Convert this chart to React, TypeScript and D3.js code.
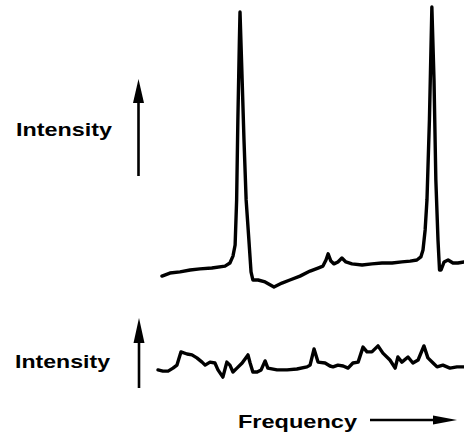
import React from "react";
import * as d3 from "d3";

// top spectrum: frequency (0-100) vs intensity (0-100)
const topFreq = [1.3, 3.9, 7.2, 10.5, 13.7, 17.6, 21.9, 23.5, 24.5, 25.2, 25.7, 26.1, 26.6, 26.8, 27.5, 28.1, 28.8, 29.7, 30.4, 31.0, 32.7, 35.0, 37.9, 40.5, 43.1, 46.4, 49.7, 52.3, 53.9, 54.9, 55.6, 56.5, 57.5, 58.8, 60.1, 61.4, 63.4, 66.7, 69.9, 73.2, 76.5, 79.7, 82.4, 84.6, 85.9, 86.6, 87.3, 87.9, 88.7, 89.5, 90.2, 90.8, 91.5, 92.0, 92.5, 93.5, 94.8, 96.4, 98.0, 100];
const topIntensity = [3.2, 4.3, 4.7, 5.4, 5.8, 6.1, 6.8, 7.9, 10.4, 14.4, 30.6, 59.4, 88.1, 98.2, 73.7, 52.2, 30.6, 16.2, 4.7, 1.8, 1.8, 1.1, -0.7, 0.7, 1.8, 3.2, 5.0, 6.1, 6.8, 9.0, 11.2, 8.6, 7.6, 8.3, 9.7, 8.3, 7.6, 7.2, 7.6, 7.9, 7.9, 8.3, 8.6, 9.0, 10.1, 12.6, 19.8, 30.6, 59.4, 100, 73.7, 37.8, 16.2, 5.4, 5.4, 8.3, 9.0, 7.9, 7.9, 8.3];

// bottom spectrum: frequency (0-100) vs intensity (0-10)
const bottomFreq = [0, 1.6, 3.3, 4.9, 6.2, 7.5, 9.5, 11.1, 12.7, 14.4, 15.4, 17.0, 18.6, 19.6, 21.2, 22.5, 23.5, 24.5, 25.8, 27.5, 29.4, 30.1, 31.0, 32.4, 33.7, 35.0, 35.9, 38.9, 42.2, 45.4, 48.7, 49.7, 51.0, 52.3, 54.6, 56.2, 57.2, 58.8, 60.5, 62.1, 63.7, 65.4, 67.0, 68.3, 69.9, 71.9, 73.5, 75.8, 77.5, 78.4, 79.7, 81.7, 83.3, 85.0, 86.9, 88.2, 89.9, 91.2, 93.1, 95.4, 97.7, 100];
const bottomIntensity = [1.7, 1.3, 1.3, 2.3, 3.3, 7.7, 7.0, 6.7, 5.7, 4.3, 3.3, 4.3, 4.0, 1.7, -0.7, 4.3, 3.3, 1.0, 2.3, 4.0, 6.7, 4.0, 1.0, 1.0, 1.7, 4.7, 2.3, 1.7, 1.7, 2.0, 2.7, 3.3, 8.7, 4.3, 4.0, 3.0, 2.7, 3.3, 3.0, 2.3, 4.0, 4.3, 9.3, 7.7, 7.7, 9.7, 7.3, 5.0, 2.3, 6.0, 4.3, 6.0, 4.0, 5.0, 9.7, 5.7, 4.0, 2.7, 3.3, 2.3, 2.7, 2.7];

const yLabel = "Intensity";
const xLabel = "Frequency";

const W = 464;
const H = 433;

function arrowHead(x: number, y: number, dir: "up" | "right", len: number, half: number) {
  if (dir === "up") return `M${x},${y} L${x - half},${y + len} L${x + half},${y + len} Z`;
  return `M${x},${y} L${x - len},${y - half} L${x - len},${y + half} Z`;
}

export default function App() {
  const x = d3.scaleLinear().domain([0, 100]).range([158, 464]);
  const yTop = d3.scaleLinear().domain([0, 100]).range([285, 7]);
  const yBot = d3.scaleLinear().domain([0, 10]).range([375, 345]);

  const topLine = d3
    .line<number>()
    .x((d) => x(d))
    .y((_, i) => yTop(topIntensity[i]))(topFreq);
  const botLine = d3
    .line<number>()
    .x((d) => x(d))
    .y((_, i) => yBot(bottomIntensity[i]))(bottomFreq);

  const font = { fontFamily: "'Liberation Sans', Arial, sans-serif", fontWeight: "bold" as const, fontSize: 19, fill: "#000" };

  return (
    <svg width={W} height={H} style={{ position: "absolute", left: 0, top: 0, background: "#fff" }}>
      <path d={topLine || ""} fill="none" stroke="#000" strokeWidth={3.4} strokeLinejoin="round" strokeLinecap="round" />
      <path d={botLine || ""} fill="none" stroke="#000" strokeWidth={3.4} strokeLinejoin="round" strokeLinecap="round" />

      {/* top y label and arrow */}
      <text x={16} y={136} textLength={96} lengthAdjust="spacingAndGlyphs" {...font}>{yLabel}</text>
      <line x1={138.5} y1={176} x2={138.5} y2={95} stroke="#000" strokeWidth={2.6} />
      <path d={arrowHead(138.5, 79, "up", 24, 5.5)} fill="#000" />

      {/* bottom y label and arrow */}
      <text x={15} y={368} textLength={95} lengthAdjust="spacingAndGlyphs" {...font}>{yLabel}</text>
      <line x1={139} y1={388} x2={139} y2={335} stroke="#000" strokeWidth={2.6} />
      <path d={arrowHead(139, 318, "up", 25, 5.5)} fill="#000" />

      {/* x label and arrow */}
      <text x={238} y={428} textLength={119} lengthAdjust="spacingAndGlyphs" {...font}>{xLabel}</text>
      <line x1={370} y1={420} x2={440} y2={420} stroke="#000" strokeWidth={2.4} />
      <path d={arrowHead(457, 420, "right", 24, 4.5)} fill="#000" />
    </svg>
  );
}
